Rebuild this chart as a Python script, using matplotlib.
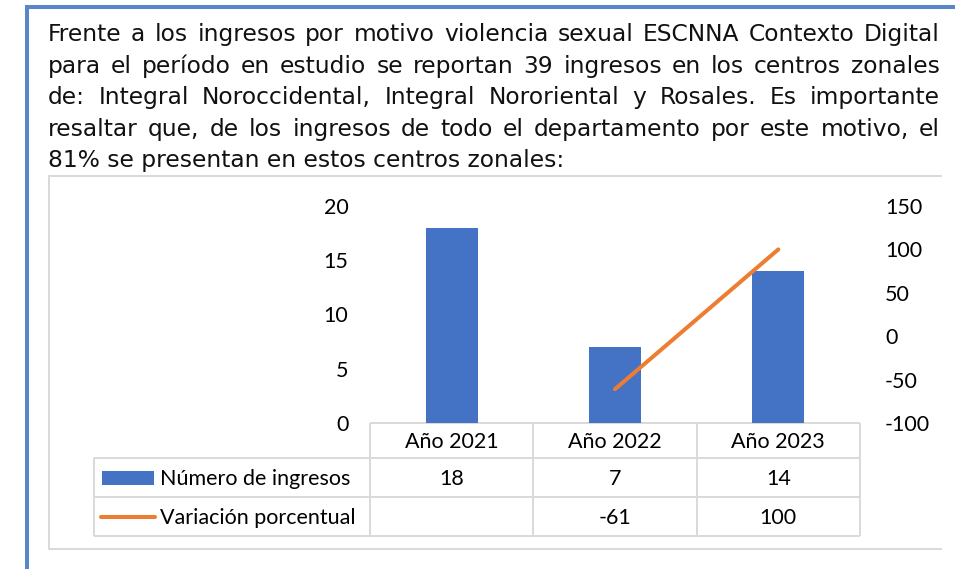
import matplotlib
matplotlib.use("Agg")
import matplotlib.pyplot as plt
import numpy as np

plt.rcParams["axes.unicode_minus"] = False

# ---------------- data ----------------
categorias = ["Año 2021", "Año 2022", "Año 2023"]
ingresos = [18, 7, 14]
variacion = [np.nan, -61, 100]
serie_barras = "Número de ingresos"
serie_linea = "Variación porcentual"
ticks_izq = [0, 5, 10, 15, 20]
ticks_der = [-100, -50, 0, 50, 100, 150]
parrafo = [
    "Frente a los ingresos por motivo violencia sexual ESCNNA Contexto Digital",
    "para el período en estudio se reportan 39 ingresos en los centros zonales",
    "de: Integral Noroccidental, Integral Nororiental y Rosales. Es importante",
    "resaltar que, de los ingresos de todo el departamento por este motivo, el",
    "81% se presentan en estos centros zonales:",
]

W, H = 955, 569
BLUE = "#4472C4"
ORANGE = "#ED7D31"
GRID = "#D9D9D9"
FRAME = "#5887C8"
CHART_FONT = ["Lato", "DejaVu Sans"]
TEXT_FONT = ["DejaVu Sans"]

fig = plt.figure(figsize=(W / 100, H / 100), dpi=100)
fig.patch.set_facecolor("white")

# overlay in pixel coordinates
ov = fig.add_axes([0, 0, 1, 1], zorder=0)
ov.set_xlim(0, W)
ov.set_ylim(H, 0)
ov.axis("off")

# blue frame
ov.plot([27, 27], [7, H + 5], color=FRAME, lw=2.9, solid_capstyle="butt")
ov.plot([25, W + 5], [7, 7], color=FRAME, lw=2.9, solid_capstyle="butt")

# chart box
ov.plot([49, 49, 941], [176, 549, 549], color=GRID, lw=1.4)
ov.plot([49, 941], [176, 176], color=GRID, lw=1.4)

# paragraph (justified)
renderer = fig.canvas.get_renderer()
x0, x1 = 48, 940
baselines = [41, 72.5, 104, 135.5, 167]
fs_par = 16.8
for i, line in enumerate(parrafo):
    y = baselines[i]
    words = line.split(" ")
    if i < len(parrafo) - 1:
        txts = []
        widths = []
        for w in words:
            t = ov.text(0, y, w, fontsize=fs_par, family=TEXT_FONT, va="baseline", ha="left", color="#111111")
            txts.append(t)
            widths.append(t.get_window_extent(renderer).width)
        gap = (x1 - x0 - sum(widths)) / (len(words) - 1)
        x = x0
        for t, wd in zip(txts, widths):
            t.set_x(x)
            x += wd + gap
    else:
        ov.text(x0, y, line, fontsize=fs_par, family=TEXT_FONT, va="baseline", ha="left", color="#111111")

# main chart axes
pl, pr, pt, pb = 370, 860, 206, 423
ax = fig.add_axes([pl / W, 1 - pb / H, (pr - pl) / W, (pb - pt) / H], zorder=2)
ax.patch.set_alpha(0)
xpos = np.arange(len(categorias))
ax.bar(xpos, ingresos, width=0.32, color=BLUE, zorder=2)
ax.set_xlim(-0.5, len(categorias) - 0.5)
ax.set_ylim(0, 20)
ax.set_yticks(ticks_izq)
ax.set_xticks([])
for s in ax.spines.values():
    s.set_visible(False)
ax.tick_params(axis="y", length=0, pad=15.5, labelsize=15.5)
for lab in ax.get_yticklabels():
    lab.set_family(CHART_FONT)

ax2 = ax.twinx()
ax2.set_zorder(3)
ax2.patch.set_alpha(0)
ax2.plot(xpos, variacion, color=ORANGE, lw=2.9, solid_capstyle="round")
ax2.set_ylim(-100, 150)
ax2.set_yticks(ticks_der)
for s in ax2.spines.values():
    s.set_visible(False)
ax2.tick_params(axis="y", length=0, pad=18, labelsize=15.5)
for lab in ax2.get_yticklabels():
    lab.set_family(CHART_FONT)

# data table
col_w = (pr - pl) / len(categorias)
col_edges = [pl + k * col_w for k in range(len(categorias) + 1)]
centers = [pl + (k + 0.5) * col_w for k in range(len(categorias))]
r0, r1, r2, r3 = 423, 458, 497, 536
tl = 94
tkw = dict(color=GRID, lw=1.4, solid_capstyle="butt")
ov.plot([pl, pr], [r0, r0], **tkw)
for yy in (r1, r2, r3):
    ov.plot([tl, pr], [yy, yy], **tkw)
for xx in col_edges:
    ov.plot([xx, xx], [r0, r3], **tkw)
ov.plot([tl, tl], [r1, r3], **tkw)

tfs = 15.5
for c, lab in zip(centers, categorias):
    ov.text(c, (r0 + r1) / 2 + 1, lab, ha="center", va="center", fontsize=tfs, family=CHART_FONT, color="black")
for c, v in zip(centers, ingresos):
    ov.text(c, (r1 + r2) / 2 + 1, f"{v:g}", ha="center", va="center", fontsize=tfs, family=CHART_FONT, color="black")
for c, v in zip(centers, variacion):
    if not np.isnan(v):
        ov.text(c, (r2 + r3) / 2 + 1, f"{v:g}", ha="center", va="center", fontsize=tfs, family=CHART_FONT, color="black")

# legend keys inside table
ov.add_patch(plt.Rectangle((102, 471), 52, 14, color=BLUE, lw=0))
ov.plot([101, 155], [516.5, 516.5], color=ORANGE, lw=2.9, solid_capstyle="round")
ov.text(160, (r1 + r2) / 2 + 1, serie_barras, ha="left", va="center", fontsize=tfs, family=CHART_FONT, color="black")
ov.text(160, (r2 + r3) / 2 + 1, serie_linea, ha="left", va="center", fontsize=tfs, family=CHART_FONT, color="black")

fig.savefig("out.png", dpi=100)
